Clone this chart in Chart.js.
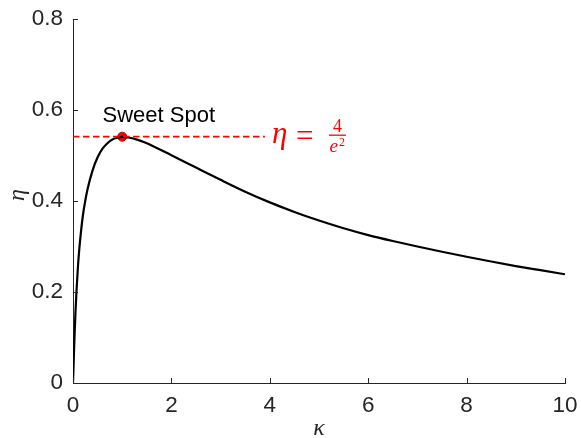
<!DOCTYPE html>
<html>
<head>
<meta charset="utf-8">
<script src="https://cdn.jsdelivr.net/npm/chart.js@4"></script>
<style>
  html, body { margin: 0; padding: 0; background: #fff; }
  #wrap { width: 581px; height: 438px; }
</style>
</head>
<body>
<div id="wrap"><canvas id="effChart"></canvas></div>
<script>
// curve
const kappa = [0, 0.015, 0.03, 0.05, 0.07, 0.1, 0.13, 0.16, 0.2, 0.25, 0.3, 0.4, 0.5, 0.6, 0.7, 0.8, 0.9, 1.0,
               1.15, 1.3, 1.45, 1.6, 2.0, 2.5, 3.0, 3.5, 4.0, 4.5, 5.0, 5.5, 6.0, 6.5, 7.0, 7.5, 8.0, 8.5, 9.0, 9.5, 10];
const eta = [0, 0.05, 0.10, 0.155, 0.20, 0.255, 0.297, 0.330, 0.367, 0.401, 0.428, 0.468, 0.496, 0.515, 0.527, 0.535, 0.539, 0.541,
             0.539, 0.535, 0.529, 0.522, 0.5005, 0.4735, 0.4465, 0.4205, 0.397, 0.376, 0.357, 0.340, 0.325, 0.312, 0.300, 0.2885, 0.2775, 0.267, 0.257, 0.248, 0.239];

const sweetK = 1;
const sweetEta = 4 / Math.E ** 2;   // 0.541
const dashEnd = 3.9;
const labelPos = [0.6, 0.587];

const xTicks = [0, 2, 4, 6, 8, 10];
const yTicks = [0, 0.2, 0.4, 0.6, 0.8];

const axisColor = '#262626';
const tickFont = { family: 'Arial, "Liberation Sans", sans-serif', size: 22.5 };

const curve = kappa.map((k, i) => ({ x: k, y: eta[i] }));

// inward tick marks, axis titles and annotation text
const decor = {
  id: 'decor',
  afterDraw(chart) {
    const ctx = chart.ctx;
    const xs = chart.scales.x, ys = chart.scales.y;
    const area = chart.chartArea;
    ctx.save();
    ctx.strokeStyle = axisColor;
    ctx.lineWidth = 1;
    ctx.beginPath();
    xTicks.forEach(v => {
      const px = Math.round(xs.getPixelForValue(v)) + 0.5;
      ctx.moveTo(px, area.bottom);
      ctx.lineTo(px, area.bottom - 5);
    });
    yTicks.forEach(v => {
      const py = Math.round(ys.getPixelForValue(v)) + 0.5;
      ctx.moveTo(area.left, py);
      ctx.lineTo(area.left + 5, py);
    });
    ctx.stroke();

    // axis titles
    ctx.fillStyle = axisColor;
    ctx.font = 'italic 24px "Liberation Serif", "DejaVu Serif", serif';
    ctx.textAlign = 'center';
    ctx.textBaseline = 'middle';
    ctx.fillText('κ', (area.left + area.right) / 2, area.bottom + 46);
    ctx.save();
    ctx.translate(area.left - 55, (area.top + area.bottom) / 2 - 6);
    ctx.rotate(-Math.PI / 2);
    ctx.fillText('η', 0, 0);
    ctx.restore();

    // Sweet Spot label
    ctx.fillStyle = '#000';
    ctx.font = '22px Arial, "Liberation Sans", sans-serif';
    ctx.textAlign = 'left';
    ctx.textBaseline = 'middle';
    ctx.fillText('Sweet Spot', xs.getPixelForValue(labelPos[0]), ys.getPixelForValue(labelPos[1]));

    // eta = 4 / e^2
    const x0 = xs.getPixelForValue(dashEnd) + 7;
    const y0 = ys.getPixelForValue(sweetEta);
    ctx.fillStyle = '#ff0000';
    ctx.strokeStyle = '#ff0000';
    ctx.textBaseline = 'alphabetic';
    ctx.font = 'italic 31px "Liberation Serif", "DejaVu Serif", serif';
    ctx.fillText('η', x0, y0 + 6);
    ctx.font = '31px "Liberation Serif", "DejaVu Serif", serif';
    ctx.fillText('=', x0 + 24, y0 + 9);
    const fx = x0 + 57;
    ctx.lineWidth = 1.3;
    ctx.beginPath();
    ctx.moveTo(fx, y0 - 1.5);
    ctx.lineTo(fx + 17, y0 - 1.5);
    ctx.stroke();
    ctx.textAlign = 'center';
    ctx.font = '18px "Liberation Serif", "DejaVu Serif", serif';
    ctx.fillText('4', fx + 8.5, y0 - 5);
    ctx.textAlign = 'left';
    ctx.font = 'italic 19px "Liberation Serif", "DejaVu Serif", serif';
    ctx.fillText('e', fx + 0.5, y0 + 15);
    ctx.font = '12px "Liberation Serif", "DejaVu Serif", serif';
    ctx.fillText('2', fx + 10, y0 + 9);
    ctx.restore();
  }
};

new Chart(document.getElementById('effChart'), {
  type: 'line',
  data: {
    datasets: [
      {
        data: [{ x: 0, y: sweetEta }, { x: dashEnd, y: sweetEta }],
        borderColor: '#ff0000',
        borderWidth: 1.7,
        borderDash: [6.5, 3.5],
        pointRadius: 0
      },
      {
        data: curve,
        borderColor: '#000',
        borderWidth: 2.2,
        pointRadius: 0,
        cubicInterpolationMode: 'monotone'
      },
      {
        data: [{ x: sweetK, y: sweetEta }],
        showLine: false,
        pointRadius: 4.5,
        pointBackgroundColor: '#ff0000',
        pointBorderColor: '#b00000',
        pointBorderWidth: 1
      }
    ]
  },
  options: {
    responsive: true,
    maintainAspectRatio: false,
    animation: false,
    layout: { padding: { top: 19, right: 16, left: 0, bottom: 0 } },
    plugins: { legend: { display: false }, tooltip: { enabled: false } },
    scales: {
      x: {
        type: 'linear',
        min: 0, max: 10,
        afterBuildTicks: s => { s.ticks = xTicks.map(v => ({ value: v })); },
        afterFit: s => { s.height = 55; s.paddingLeft = 0; s.paddingRight = 0; },
        grid: { drawOnChartArea: false, drawTicks: false },
        border: { color: axisColor, width: 1 },
        ticks: { color: axisColor, font: tickFont, padding: 9, maxRotation: 0 }
      },
      y: {
        type: 'linear',
        min: 0, max: 0.8,
        afterBuildTicks: s => { s.ticks = yTicks.map(v => ({ value: v })); },
        afterFit: s => { s.width = 73; s.paddingTop = 0; s.paddingBottom = 0; },
        grid: { drawOnChartArea: false, drawTicks: false },
        border: { color: axisColor, width: 1 },
        ticks: { color: axisColor, font: tickFont, padding: 10, callback: v => String(v) }
      }
    }
  },
  plugins: [decor]
});
</script>
</body>
</html>
